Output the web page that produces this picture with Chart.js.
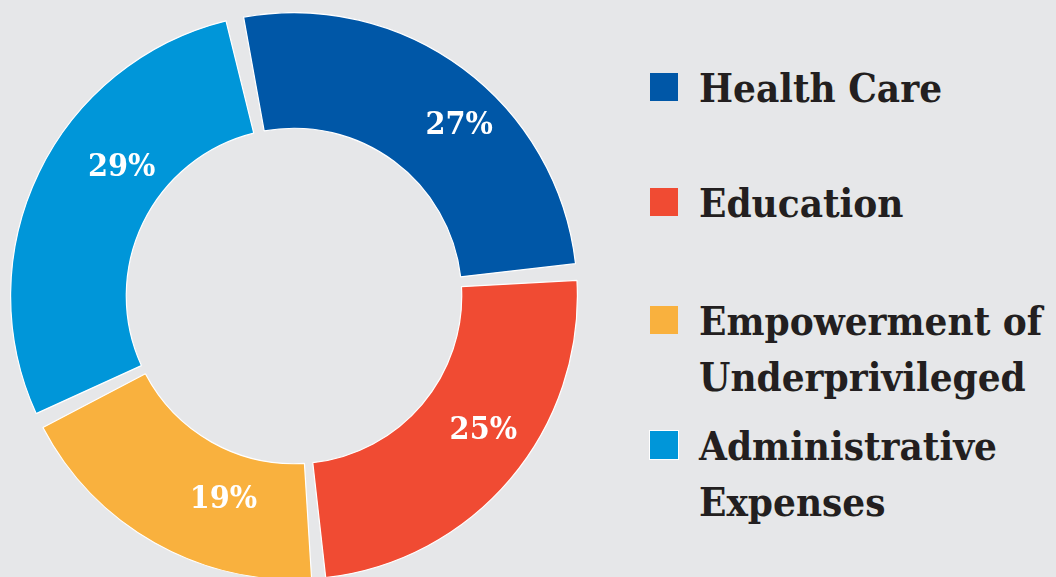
<!DOCTYPE html>
<html>
<head>
<meta charset="utf-8">
<script src="https://cdn.jsdelivr.net/npm/chart.js@4.4.1/dist/chart.umd.min.js"></script>
<style>
  html, body { margin: 0; padding: 0; width: 1056px; height: 577px; overflow: hidden; background: #E6E7E9; }
  #chartBox { position: absolute; left: 10px; top: 12px; width: 568px; height: 568px; }
  #legend { position: absolute; left: 650px; top: 0; width: 406px; height: 577px; }
  .item { position: absolute; left: 0; font-family: 'DejaVu Serif Condensed', 'DejaVu Serif', serif; font-stretch: condensed; font-weight: bold; font-size: 40px; line-height: 56px; color: #231F20; white-space: nowrap; }
  .item .sw { position: absolute; left: 0; width: 28px; height: 28px; }
  .item .tx { position: absolute; left: 49px; top: 0; }
</style>
</head>
<body>
<div id="chartBox"><canvas id="c"></canvas></div>
<div id="legend"></div>
<script>
// ---- data ----
const categories = [['Health Care'], ['Education'], ['Empowerment of', 'Underprivileged'], ['Administrative', 'Expenses']];
const shares = [27, 25, 19, 29];
const valueLabels = ['27%', '25%', '19%', '29%'];
const sliceColors = ['#0057A7', '#F04B33', '#F9B13E', '#0096D9'];

// ---- layout (not data) ----
const legendTops = [60, 175, 293, 418];
const labelAngleNudge = [7, -5.4, -10, 11.5];   // degrees
const labelRadiusNudge = [22, 13, -5, -1];      // px

// legend (HTML, built from the arrays)
const legendEl = document.getElementById('legend');
categories.forEach((lines, i) => {
  const it = document.createElement('div');
  it.className = 'item';
  it.style.top = legendTops[i] + 'px';
  const sw = document.createElement('div');
  sw.className = 'sw';
  sw.style.background = sliceColors[i];
  sw.style.top = '13px';
  if (i === 3) { sw.style.boxShadow = '0 0 0 1px #fff'; }
  const tx = document.createElement('div');
  tx.className = 'tx';
  tx.innerHTML = lines.join('<br>');
  it.appendChild(sw);
  it.appendChild(tx);
  legendEl.appendChild(it);
});

const sliceLabels = {
  id: 'sliceLabels',
  afterDatasetsDraw(chart) {
    const ctx = chart.ctx;
    const meta = chart.getDatasetMeta(0);
    ctx.save();
    ctx.fillStyle = '#ffffff';
    ctx.font = 'bold 32px "DejaVu Serif Condensed", "DejaVu Serif", serif';
    try { ctx.fontStretch = 'condensed'; } catch (e) {}
    ctx.textAlign = 'center';
    ctx.textBaseline = 'alphabetic';
    meta.data.forEach((arc, i) => {
      const p = arc.getProps(['x', 'y', 'startAngle', 'endAngle', 'innerRadius', 'outerRadius'], true);
      const mid = (p.startAngle + p.endAngle) / 2 + labelAngleNudge[i] * Math.PI / 180;
      const r = (p.innerRadius + p.outerRadius) / 2 + labelRadiusNudge[i];
      const cx = p.x + Math.cos(mid) * r;
      const cy = p.y + Math.sin(mid) * r;
      ctx.fillText(valueLabels[i], cx, cy + 0.36 * 32);
    });
    ctx.restore();
  }
};

new Chart(document.getElementById('c'), {
  type: 'doughnut',
  data: {
    labels: categories,
    datasets: [{
      data: shares,
      backgroundColor: sliceColors,
      borderColor: '#ffffff',
      borderWidth: 1.2,
      spacing: 16
    }]
  },
  options: {
    responsive: true,
    maintainAspectRatio: false,
    animation: false,
    rotation: -12,
    cutout: '58%',
    layout: { padding: 0 },
    plugins: { legend: { display: false }, tooltip: { enabled: false } }
  },
  plugins: [sliceLabels]
});
</script>
</body>
</html>
